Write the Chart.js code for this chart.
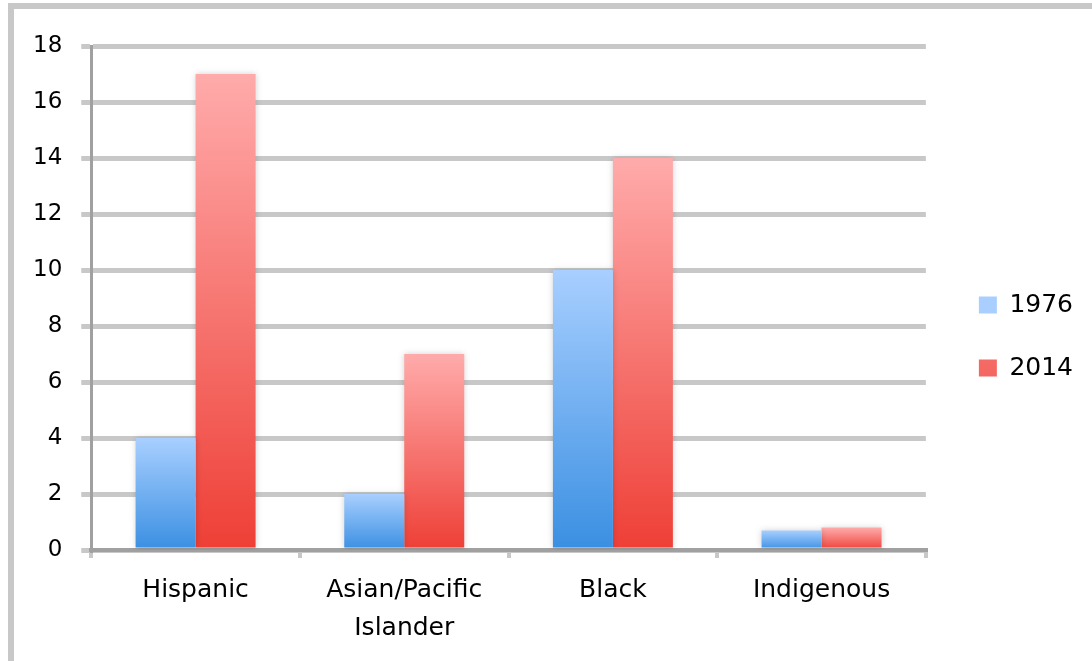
<!DOCTYPE html>
<html>
<head>
<meta charset="utf-8">
<script src="https://cdn.jsdelivr.net/npm/chart.js@4.4.1/dist/chart.umd.min.js"></script>
<style>
	body { margin: 0; background: #fff; }
	#wrap { position: relative; width: 1092px; height: 661px; }
	#frame { position: absolute; left: 8px; top: 3px; right: 0; bottom: 0; border-left: 6px solid #c8c8c8; border-top: 6px solid #c8c8c8; }
</style>
</head>
<body>
<div id="wrap">
	<div id="frame"></div>
	<canvas id="myChart"></canvas>
</div>
<script>
const categories = ['Hispanic', ['Asian/Pacific', 'Islander'], 'Black', 'Indigenous'];
const seriesNames = ['1976', '2014'];
const values1976 = [4, 2, 10, 0.7];
const values2014 = [17, 7, 14, 0.8];
const yMin = 0, yMax = 18, yStep = 2;

// light top -> dark bottom, per bar
const blueStops = ['#a8cfff', '#3a8fe2'];
const redStops = ['#ffabab', '#ee3f36'];
const legendColors = ['#7fb6f4', '#f97a76'];

function barFill(stops, legendColor) {
	return function(context) {
		const chart = context.chart;
		if (context.type !== 'data' || !chart.chartArea) {
			return legendColor;
		}
		const y = chart.scales.y;
		const top = y.getPixelForValue(context.raw);
		const bottom = y.getPixelForValue(0);
		const g = chart.ctx.createLinearGradient(0, top, 0, bottom);
		g.addColorStop(0, stops[0]);
		g.addColorStop(1, stops[1]);
		return g;
	}
}

// soft halo around the bars
const barShadow = {
	id: 'barShadow',
	beforeDatasetsDraw(chart) {
		const ctx = chart.ctx;
		ctx.save();
		ctx.shadowColor = 'rgba(0,0,0,0.18)';
		ctx.shadowBlur = 6;
	},
	afterDatasetsDraw(chart) {
		chart.ctx.restore();
	}
};

// lift the legend a little above the vertical middle
const legendLift = {
	id: 'legendLift',
	afterLayout(chart) {
		const lg = chart.legend;
		if (lg) {
			lg.top -= 17;
			lg.bottom -= 17;
		}
	}
};

const fontFamily = '"DejaVu Sans", sans-serif';
Chart.defaults.font.family = fontFamily;
Chart.defaults.color = '#000';

const ctx = document.getElementById('myChart').getContext('2d');
const myChart = new Chart(ctx, {
	type: 'bar',
	data: {
		labels: categories,
		datasets: [{
			label: seriesNames[0],
			data: values1976,
			backgroundColor: barFill(blueStops, legendColors[0]),
			borderWidth: 0,
			categoryPercentage: 0.575,
			barPercentage: 1.0,
		}, {
			label: seriesNames[1],
			data: values2014,
			backgroundColor: barFill(redStops, legendColors[1]),
			borderWidth: 0,
			categoryPercentage: 0.575,
			barPercentage: 1.0,
		}]
	},
	options: {
		responsive: true,
		maintainAspectRatio: false,
		animation: false,
		layout: {
			padding: { left: 14, top: 46, right: 9, bottom: 0 }
		},
		plugins: {
			legend: {
				position: 'right',
				labels: {
					boxWidth: 18,
					boxHeight: 17,
					padding: 38,
					font: { size: 25 },
				}
			},
			tooltip: { enabled: false },
		},
		scales: {
			x: {
				grid: {
					drawOnChartArea: false,
					drawTicks: true,
					tickLength: 8,
					color: '#c8c8c8',
					lineWidth: 4,
				},
				border: { display: true, color: '#a0a0a0', width: 4 },
				ticks: {
					padding: 14,
					font: { size: 25, lineHeight: 1.5 },
					maxRotation: 0,
				}
			},
			y: {
				min: yMin,
				max: yMax,
				grid: {
					color: '#c8c8c8',
					lineWidth: 5,
					tickLength: 10,
				},
				border: { display: true, color: '#a0a0a0', width: 3 },
				ticks: {
					stepSize: yStep,
					padding: 19,
					font: { size: 23 },
				}
			},
			// empty spacer between the plot and the legend
			gap: {
				position: 'right',
				display: true,
				grid: { display: false },
				border: { display: false },
				ticks: { display: false },
				afterFit(scale) { scale.width = 15; }
			}
		}
	},
	plugins: [barShadow, legendLift]
});
</script>
</body>
</html>
